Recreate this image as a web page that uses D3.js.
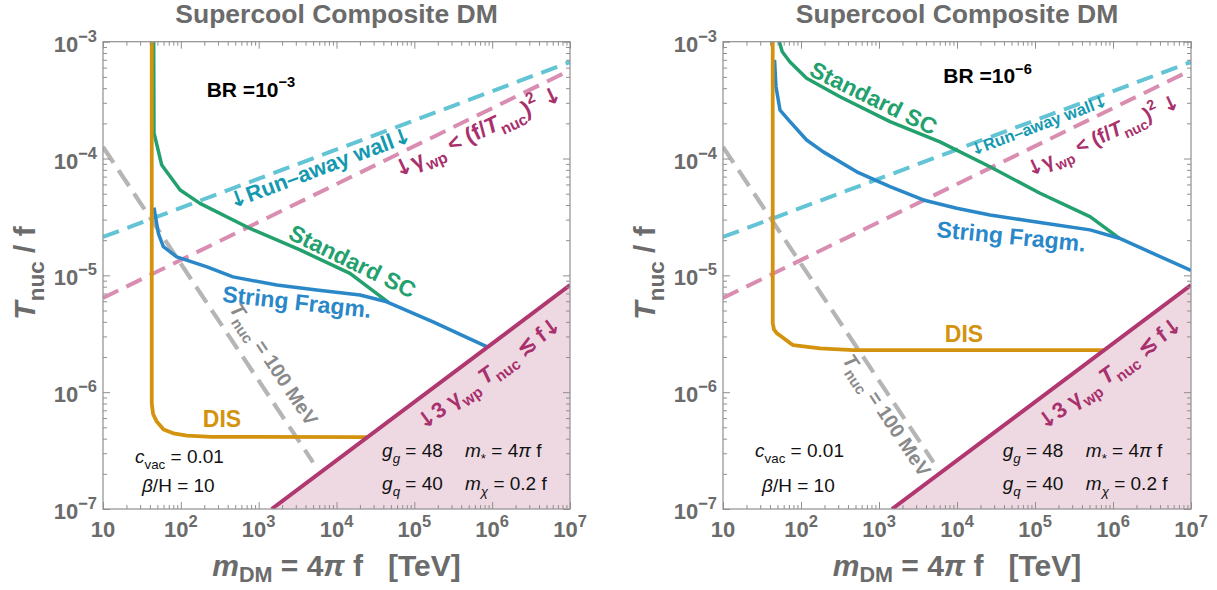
<!DOCTYPE html>
<html><head><meta charset="utf-8">
<script src="https://cdn.jsdelivr.net/npm/d3@7"></script>
<style>
body{margin:0;background:#fff}
svg{display:block}
text{font-family:"Liberation Sans",Arial,Helvetica,sans-serif}
.ar{font-family:"DejaVu Sans",sans-serif}
</style>
</head><body>
<svg id="c" width="1217" height="590"></svg>
<script>
// ---------------- data ----------------
const titleText = "Supercool Composite DM";
const xTickValues = [1e1, 1e2, 1e3, 1e4, 1e5, 1e6, 1e7];
const xTickExps   = ["", "2", "3", "4", "5", "6", "7"];
const yTickValues = [1e-7, 1e-6, 1e-5, 1e-4, 1e-3];
const yTickExps   = ["\u22127", "\u22126", "\u22125", "\u22124", "\u22123"];
const brExps = ["\u22123", "\u22126"];

// shared lines (both panels)
const runawayM = [10, 1e7],    runawayT = [2.13e-5, 6.7e-4];
const gammaM   = [10, 1e7],    gammaT   = [6.4e-6, 5.7e-4];
const tnuc100M = [10, 5000],   tnuc100T = [1.257e-4, 2.51e-7];
const boundM   = [1468, 1e7],  boundT   = [1e-7, 8.25e-6];

// left panel, BR = 1e-3
const disM_L = [42.3, 42.3, 44, 49, 60, 80, 120, 250, 25400];
const disT_L = [1e-3, 8e-7, 6.5e-7, 5.6e-7, 4.8e-7, 4.45e-7, 4.25e-7, 4.15e-7, 4.12e-7];
const sfM_L  = [45.2, 51.4, 59.6, 88.5, 217, 468, 1705, 5570, 20000, 44200, 174000, 850000];
const sfT_L  = [3.8e-5, 2.29e-5, 1.76e-5, 1.44e-5, 1.18e-5, 9.7e-6, 8.26e-6, 7.48e-6, 6.78e-6, 5.94e-6, 4.0e-6, 2.45e-6];
const scM_L  = [44.8, 45.2, 56.8, 98, 176, 774, 3400, 14900, 46000];
const scT_L  = [1e-3, 1.66e-4, 8.8e-5, 5.37e-5, 4.13e-5, 2.52e-5, 1.65e-5, 1.04e-5, 5.9e-6];

// right panel, BR = 1e-6
const disM_R = [43.4, 43.4, 45, 48.8, 56.6, 72.3, 79.6, 175, 464, 760000];
const disT_R = [1e-3, 3.9e-6, 3.45e-6, 3.2e-6, 2.98e-6, 2.63e-6, 2.53e-6, 2.37e-6, 2.29e-6, 2.29e-6];
const sfM_R  = [45.8, 47.8, 53.8, 72.3, 118, 193, 518, 1384, 3700, 9900, 26500, 70800, 190000, 507000, 1.2e6, 1e7];
const sfT_R  = [7e-4, 4.12e-4, 2.6e-4, 2.07e-4, 1.44e-4, 1.14e-4, 7.7e-5, 5.74e-5, 4.42e-5, 3.75e-5, 3.28e-5, 2.98e-5, 2.7e-5, 2.45e-5, 2.08e-5, 1.1e-5];
const scM_R  = [52.7, 57.5, 72.3, 118, 316, 1384, 6050, 26500, 116000, 507000, 1.2e6];
const scT_R  = [1e-3, 8.2e-4, 6.7e-4, 4.87e-4, 3.38e-4, 2.07e-4, 1.39e-4, 8.5e-5, 5.04e-5, 3.18e-5, 2.08e-5];

// ---------------- drawing ----------------
const C = {
  orange: "#d4930f", green: "#22a06d", blue: "#2a88c8",
  cyan: "#62c4d4", pink: "#d98db1", magenta: "#b0376f", fill: "#eed9e3",
  gray: "#b5b5b5", cyanText: "#1599b0", magText: "#a8306c",
  axisText: "#6b6b6b", frame: "#8f8f8f"
};
const svg = d3.select("#c");
const zip = (a, b) => a.map((v, i) => [v, b[i]]);

// parts: [text, flags]; flags: i italic, s subscript, S superscript, a arrow font
function rich(sel, parts, fs, subR, subShift) {
  let cur = 0;
  const r = subR || 0.7, sh = subShift || 0.3;
  parts.forEach(p => {
    const t = p[0], f = p[1] || "";
    let target = 0, size = fs;
    if (f.includes("s")) { target = sh * fs; size = r * fs; }
    if (f.includes("S")) { target = -0.45 * fs; size = r * fs; }
    const ts = sel.append("tspan").text(t).attr("font-size", size);
    if (target - cur !== 0) ts.attr("dy", (target - cur).toFixed(2));
    if (f.includes("i")) ts.attr("font-style", "italic");
    if (f.includes("a")) ts.attr("class", "ar");
    cur = target;
  });
  return sel;
}

function label(g, px, py, angle, parts, fs, color, weight, anchor, subR, subShift) {
  const t = g.append("text")
    .attr("transform", `translate(${px},${py}) rotate(${angle})`)
    .attr("fill", color).attr("font-weight", weight || "bold")
    .attr("font-size", fs).attr("text-anchor", anchor || "start")
    .attr("xml:space", "preserve");
  rich(t, parts, fs, subR, subShift);
  return t;
}

function panel(cfg) {
  const x = d3.scaleLog().domain([10, 1e7]).range([cfg.x0, cfg.x0 + cfg.w]);
  const y = d3.scaleLog().domain([1e-7, 1e-3]).range([509, 41.7]);
  const g = svg.append("g");
  const id = "clip" + cfg.idx;
  svg.append("defs").append("clipPath").attr("id", id).append("rect")
    .attr("x", x.range()[0]).attr("y", y.range()[1])
    .attr("width", cfg.w).attr("height", y.range()[0] - y.range()[1]);
  const pg = g.append("g").attr("clip-path", `url(#${id})`);
  const line = d3.line().x(d => x(d[0])).y(d => y(d[1]));

  // shaded excluded region
  pg.append("path").datum(zip(boundM, boundT))
    .attr("d", d3.area().x(d => x(d[0])).y0(y(1e-7)).y1(d => y(d[1])))
    .attr("fill", C.fill);

  const dashed = (m, t, col, w, da) => pg.append("path").datum(zip(m, t))
    .attr("d", line).attr("fill", "none").attr("stroke", col)
    .attr("stroke-width", w).attr("stroke-dasharray", da);
  dashed(runawayM, runawayT, C.cyan, 4, "17,9");
  dashed(gammaM, gammaT, C.pink, 4, "17,9");
  dashed(tnuc100M, tnuc100T, C.gray, 4.2, "19,9");

  const solid = (m, t, col, w) => pg.append("path").datum(zip(m, t))
    .attr("d", line).attr("fill", "none").attr("stroke", col)
    .attr("stroke-width", w).attr("stroke-linejoin", "round");
  solid(cfg.scM, cfg.scT, C.green, 3.5);
  solid(cfg.sfM, cfg.sfT, C.blue, 3.5);
  solid(cfg.disM, cfg.disT, C.orange, 3.8);
  solid(boundM, boundT, C.magenta, 4);

  // axes ticks (inward on all four sides)
  const minors = [];
  for (let e = 1; e < 7; e++) for (let k = 2; k <= 9; k++) minors.push(k * Math.pow(10, e));
  const yMinors = [];
  for (let e = -7; e < -3; e++) for (let k = 2; k <= 9; k++) yMinors.push(k * Math.pow(10, e));
  const axG = g.append("g").attr("color", C.frame);
  const put = (gen, tr) => {
    const a = axG.append("g").attr("transform", tr).call(gen);
    a.select(".domain").remove();
    a.selectAll("text").remove();
    a.selectAll("line").attr("stroke-width", 1);
  };
  put(d3.axisBottom(x).tickValues(xTickValues).tickSize(-7), `translate(0,${y(1e-7)})`);
  put(d3.axisBottom(x).tickValues(minors).tickSize(-4), `translate(0,${y(1e-7)})`);
  put(d3.axisTop(x).tickValues(xTickValues).tickSize(-7), `translate(0,${y(1e-3)})`);
  put(d3.axisTop(x).tickValues(minors).tickSize(-4), `translate(0,${y(1e-3)})`);
  put(d3.axisLeft(y).tickValues(yTickValues).tickSize(-7), `translate(${x(10)},0)`);
  put(d3.axisLeft(y).tickValues(yMinors).tickSize(-4), `translate(${x(10)},0)`);
  put(d3.axisRight(y).tickValues(yTickValues).tickSize(-7), `translate(${x(1e7)},0)`);
  put(d3.axisRight(y).tickValues(yMinors).tickSize(-4), `translate(${x(1e7)},0)`);
  g.append("rect").attr("x", x(10)).attr("y", y(1e-3))
    .attr("width", x(1e7) - x(10)).attr("height", y(1e-7) - y(1e-3))
    .attr("fill", "none").attr("stroke", C.frame).attr("stroke-width", 1.2);

  // tick labels
  xTickValues.forEach((v, i) => {
    const parts = xTickExps[i] ? [["10"], [xTickExps[i], "S"]] : [["10"]];
    label(g, x(v), 537, 0, parts, 22, C.axisText, "bold", "middle", 0.75);
  });
  yTickValues.forEach((v, i) => {
    label(g, x(10) - 6, y(v) + 10, 0, [["10"], [yTickExps[i], "S"]], 22, C.axisText, "bold", "end", 0.75);
  });

  // title and axis titles
  label(g, (x.range()[0] + x.range()[1]) / 2, 23, 0, [[titleText]], 26.5, C.axisText, "bold", "middle");
  label(g, (x.range()[0] + x.range()[1]) / 2, 576, 0,
    [["m", "i"], ["DM", "s"], [" = 4"], ["\u03c0", "i"], [" f   [TeV]"]], 30, C.axisText, "bold", "middle", 0.72, 0.2);
  label(g, cfg.x0 - 68, 273, -90, [["T", "i"], ["nuc", "s"], [" / f"]], 30, C.axisText, "bold", "middle", 0.75);

  // annotations (anchored in data coordinates)
  const A = cfg.ann;
  label(g, x(A.br[0]), y(A.br[1]), 0, [["BR =10"], [cfg.br, "S"]], 21, "#000", "bold");
  label(g, x(A.run[0]), y(A.run[1]), A.run[2],
    [["\u2193", "a"], ["Run\u2013away wall"], ["\u2193", "a"]], A.run[3], C.cyanText, "bold");
  label(g, x(A.gam[0]), y(A.gam[1]), A.gam[2],
    [["\u2193", "a"], ["\u03b3"], ["wp", "s"], [" < (f/"], ["T", "i"], ["nuc", "s"], [")"], ["2", "S"], [" "], ["\u2193", "a"]], A.gam[3], C.magText, "bold");
  label(g, x(A.sc[0]), y(A.sc[1]), A.sc[2], [["Standard SC"]], 23, C.green, "bold");
  label(g, x(A.sf[0]), y(A.sf[1]), A.sf[2], [["String Fragm."]], 23, C.blue, "bold");
  label(g, x(A.tn[0]), y(A.tn[1]), 56.3, [["T", "i"], ["nuc", "s"], [" = 100 MeV"]], 20, "#8a8a8a", "bold", "middle", 0.75);
  label(g, x(A.dis[0]), y(A.dis[1]), 0, [["DIS"]], 23, C.orange, "bold", "middle");
  label(g, x(A.bnd[0]), y(A.bnd[1]), -36.4,
    [["\u2193", "a"], ["3 \u03b3"], ["wp", "s"], [" "], ["T", "i"], ["nuc", "s"], [" \u2272 f"], ["\u2193", "a"]], 22, C.magText, "bold", "middle");
  label(g, x(25.8), y(A.cvac), 0, [["c", "i"], ["vac", "s"], [" = 0.01"]], 19, "#111", "normal");
  label(g, x(31.7), y(1.40e-7), 0, [["\u03b2", "i"], ["/H = 10"]], 19, "#111", "normal");
  label(g, x(3.85e4), y(2.78e-7), 0, [["g", "i"], ["g", "si"], [" = 48"]], 19, "#111", "normal");
  label(g, x(4.48e5), y(2.78e-7), 0, [["m", "i"], ["*", "s"], [" = 4"], ["\u03c0", "i"], [" f"]], 19, "#111", "normal");
  label(g, x(3.85e4), y(1.45e-7), 0, [["g", "i"], ["q", "si"], [" = 40"]], 19, "#111", "normal");
  label(g, x(4.48e5), y(1.45e-7), 0, [["m", "i"], ["\u03c7", "si"], [" = 0.2 f"]], 19, "#111", "normal");
}

panel({
  idx: 0, x0: 103, w: 467, br: brExps[0],
  disM: disM_L, disT: disT_L, sfM: sfM_L, sfT: sfT_L, scM: scM_L, scT: scT_L,
  ann: {
    br: [215, 3.38e-4], run: [454.6, 3.70e-5, -20.6, 22], gam: [6.17e4, 6.81e-5, -25.5, 22.5],
    sc: [2312, 2.08e-5, 26], sf: [335, 5.94e-6, 6.2], tn: [1318, 1.61e-6],
    dis: [338, 5.02e-7], bnd: [1.03e6, 1.29e-6], cvac: 2.47e-7
  }
});
panel({
  idx: 1, x0: 723, w: 468, br: brExps[1],
  disM: disM_R, disT: disT_R, sfM: sfM_R, sfT: sfT_R, scM: scM_R, scT: scT_R,
  ann: {
    br: [6670, 4.4e-4], run: [1.6e4, 1.05e-4, -20.5, 16.5], gam: [8.63e4, 6.95e-5, -25, 20.5],
    sc: [123, 5.19e-4, 26], sf: [5380, 2.13e-5, 5.6], tn: [1062, 5.89e-7],
    dis: [1.23e4, 2.69e-6], bnd: [1.03e6, 1.29e-6], cvac: 2.78e-7
  }
});
</script>
</body></html>
